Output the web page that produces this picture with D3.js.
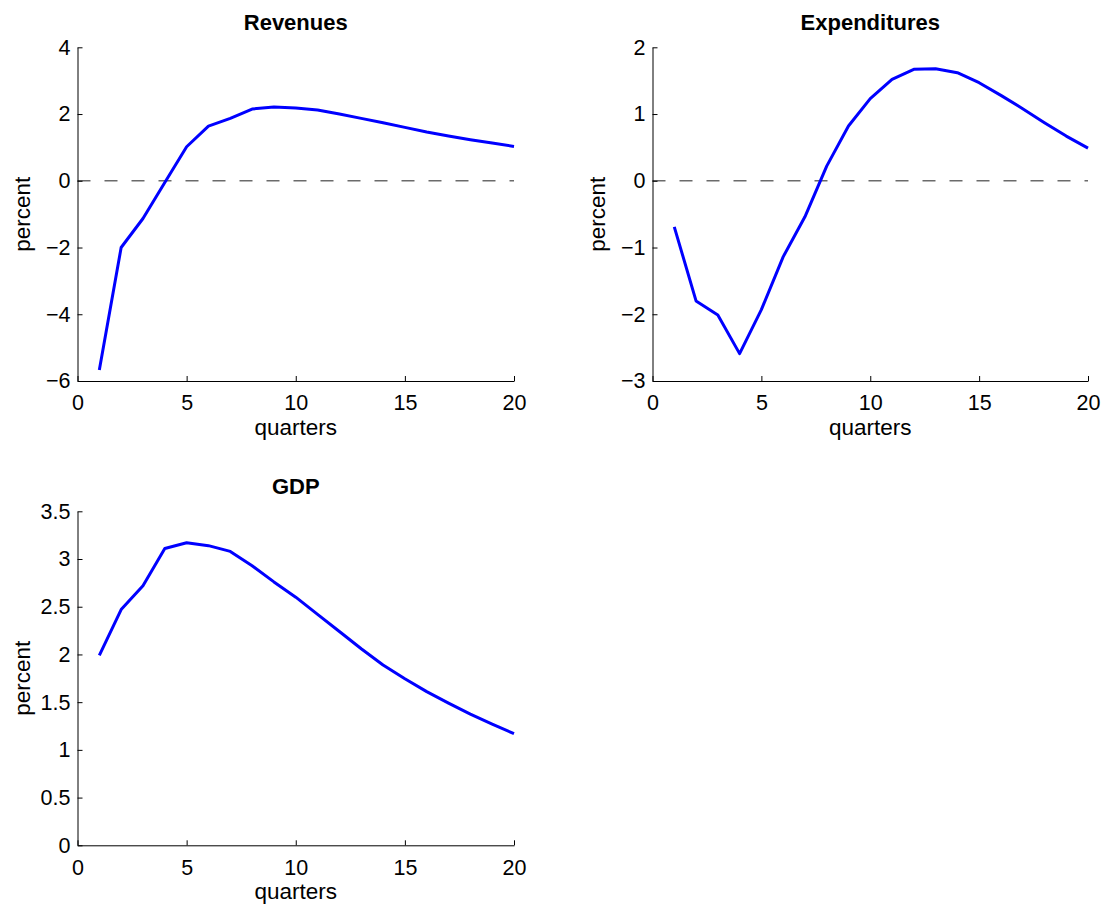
<!DOCTYPE html>
<html>
<head>
<meta charset="utf-8">
<script src="https://cdn.jsdelivr.net/npm/d3@7"></script>
<style>
  html, body { margin: 0; padding: 0; background: #fff; }
  svg text { font-family: "Liberation Sans", Arial, Helvetica, sans-serif; fill: #000; }
</style>
</head>
<body>
<svg id="chart" width="1108" height="909"></svg>
<script>
// Impulse responses over 20 quarters (percent deviation)
const quarters = d3.range(1, 21);

const revenues = [-5.67, -2.00, -1.13, -0.05, 1.02, 1.64, 1.87, 2.15, 2.21, 2.18,
                  2.12, 2.00, 1.87, 1.74, 1.60, 1.46, 1.34, 1.23, 1.13, 1.03];

const expenditures = [-0.69, -1.80, -2.01, -2.59, -1.93, -1.14, -0.54, 0.22, 0.82, 1.23,
                      1.52, 1.67, 1.68, 1.62, 1.47, 1.28, 1.08, 0.87, 0.67, 0.49];

const gdp = [1.99, 2.47, 2.72, 3.11, 3.17, 3.14, 3.08, 2.93, 2.76, 2.60,
             2.42, 2.24, 2.06, 1.89, 1.745, 1.61, 1.49, 1.375, 1.27, 1.17];

const xTicks = [0, 5, 10, 15, 20];
const revenueTicks = [-6, -4, -2, 0, 2, 4];
const expenditureTicks = [-3, -2, -1, 0, 1, 2];
const gdpTicks = [0, 0.5, 1, 1.5, 2, 2.5, 3, 3.5];

const panels = [
  { title: "Revenues", values: revenues, yDomain: [-6, 4], yTicks: revenueTicks, zeroLine: true,
    left: 77.5, right: 514, top: 47.3, bottom: 381 },
  { title: "Expenditures", values: expenditures, yDomain: [-3, 2], yTicks: expenditureTicks, zeroLine: true,
    left: 652.5, right: 1088, top: 47.3, bottom: 381 },
  { title: "GDP", values: gdp, yDomain: [0, 3.5], yTicks: gdpTicks, zeroLine: false,
    left: 77.5, right: 514, top: 511.3, bottom: 845.3 }
];

const svg = d3.select("#chart");
const fmt = d => String(d).replace("-", "\u2212");

panels.forEach(p => {
  const x = d3.scaleLinear().domain([0, 20]).range([p.left, p.right]);
  const y = d3.scaleLinear().domain(p.yDomain).range([p.bottom, p.top]);
  const g = svg.append("g");

  // zero reference line
  if (p.zeroLine) {
    g.append("line")
      .attr("x1", x(0)).attr("x2", x(20))
      .attr("y1", y(0)).attr("y2", y(0))
      .attr("stroke", "#6b6b6b")
      .attr("stroke-width", 1.6)
      .attr("stroke-dasharray", "13,14");
  }

  // response line
  const line = d3.line()
    .x((d, i) => x(quarters[i]))
    .y(d => y(d));
  g.append("path")
    .datum(p.values)
    .attr("fill", "none")
    .attr("stroke", "#0000ff")
    .attr("stroke-width", 3)
    .attr("stroke-linejoin", "round")
    .attr("d", line);

  // axes with inward ticks
  const xAxis = d3.axisBottom(x).tickValues(xTicks).tickFormat(fmt)
    .tickSizeInner(-5).tickSizeOuter(0).tickPadding(14);
  const yAxis = d3.axisLeft(y).tickValues(p.yTicks).tickFormat(fmt)
    .tickSizeInner(-5).tickSizeOuter(0).tickPadding(7);

  const gx = g.append("g").attr("transform", `translate(0,${p.bottom})`).call(xAxis);
  const gy = g.append("g").attr("transform", `translate(${p.left},0)`).call(yAxis);
  [gx, gy].forEach(a => {
    a.select(".domain").attr("stroke", "#000").attr("stroke-width", 1);
    a.selectAll(".tick line").attr("stroke", "#000").attr("stroke-width", 1);
    a.selectAll(".tick text").attr("font-size", 21.5)
      .style("font-family", "'Liberation Sans', Arial, Helvetica, sans-serif");
  });

  const cx = (p.left + p.right) / 2;
  const cy = (p.top + p.bottom) / 2;

  g.append("text")
    .attr("x", cx).attr("y", p.top - 17)
    .attr("text-anchor", "middle")
    .attr("font-size", 22).attr("font-weight", "bold")
    .text(p.title);

  g.append("text")
    .attr("x", cx).attr("y", p.bottom + 54)
    .attr("text-anchor", "middle")
    .attr("font-size", 22.5)
    .text("quarters");

  g.append("text")
    .attr("transform", `translate(${p.left - 48},${cy}) rotate(-90)`)
    .attr("text-anchor", "middle")
    .attr("font-size", 22.5)
    .text("percent");
});
</script>
</body>
</html>
